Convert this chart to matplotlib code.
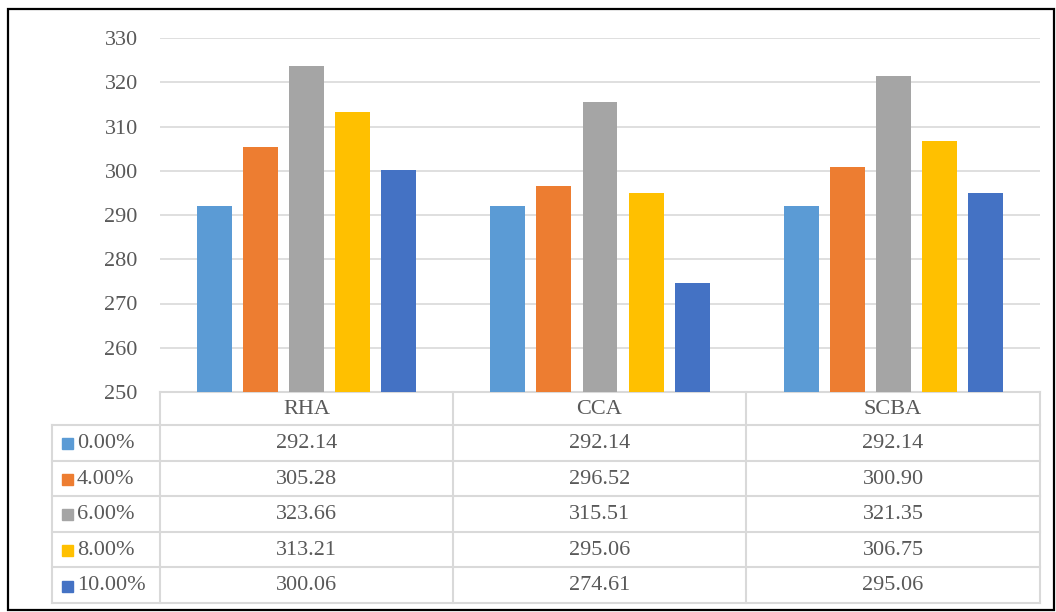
import numpy as np
import matplotlib
matplotlib.use("Agg")
from matplotlib import pyplot as plt
from matplotlib.patches import Rectangle

# DATA
categories = ["RHA", "CCA", "SCBA"]
series_names = ["0.00%", "4.00%", "6.00%", "8.00%", "10.00%"]
vals_0 = [292.14, 292.14, 292.14]
vals_4 = [305.28, 296.52, 300.90]
vals_6 = [323.66, 315.51, 321.35]
vals_8 = [313.21, 295.06, 306.75]
vals_10 = [300.06, 274.61, 295.06]
all_vals = [vals_0, vals_4, vals_6, vals_8, vals_10]
colors = ["#5B9BD5", "#ED7D31", "#A5A5A5", "#FFC000", "#4472C4"]

plt.rcParams['font.family'] = ['Liberation Serif', 'DejaVu Serif']
txt_col = "#595959"
grid_col = "#D9D9D9"
fs = 16
W, H = 1056, 612

fig = plt.figure(figsize=(W / 100, H / 100), dpi=100)

# overlay in pixel coords for the border and the data table
ov = fig.add_axes([0, 0, 1, 1], zorder=0)
ov.set_xlim(0, W)
ov.set_ylim(H, 0)
ov.axis("off")
ov.add_patch(Rectangle((8, 9), 1046, 601, fill=False, edgecolor="black", lw=1.6))

# bar chart
ax = fig.add_axes([160 / W, 1 - 392 / H, 880 / W, 354 / H], zorder=1)
ax.patch.set_alpha(0)
x = np.arange(len(categories))
bw = 0.119
step = 0.157
for i, vals in enumerate(all_vals):
    ax.bar(x + (i - 2) * step, np.array(vals) - 250, bw, bottom=250,
           color=colors[i], zorder=3)
ax.set_xlim(-0.5, 2.5)
ax.set_ylim(250, 330)
ax.set_yticks(range(250, 331, 10))
ax.set_xticks([])
ax.yaxis.grid(True, color=grid_col, lw=1.2, zorder=0)
for s in ax.spines.values():
    s.set_visible(False)
ax.tick_params(axis="y", length=0, pad=16, labelsize=fs, labelcolor=txt_col)

# data table
col_edges = [160, 453, 746, 1040]
row_edges = [392, 425, 460.5, 496, 531.5, 567, 603]
lw_t = 1.5
ov.plot([160, 1040], [row_edges[0]] * 2, color=grid_col, lw=lw_t)
for y in row_edges[1:]:
    ov.plot([52, 1040], [y, y], color=grid_col, lw=lw_t)
for xe in col_edges:
    ov.plot([xe, xe], [row_edges[0], row_edges[-1]], color=grid_col, lw=lw_t)
ov.plot([52, 52], [row_edges[1], row_edges[-1]], color=grid_col, lw=lw_t)

for j, cat in enumerate(categories):
    cx = (col_edges[j] + col_edges[j + 1]) / 2
    ov.text(cx, (row_edges[0] + row_edges[1]) / 2 + 1, cat, ha="center", va="center",
            fontsize=fs, color=txt_col)
for i, vals in enumerate(all_vals):
    cy = (row_edges[i + 1] + row_edges[i + 2]) / 2 + 1
    ov.add_patch(Rectangle((62, cy - 5.5), 11, 11, color=colors[i]))
    ov.text(77, cy, series_names[i], ha="left", va="center", fontsize=fs, color=txt_col)
    for j, v in enumerate(vals):
        cx = (col_edges[j] + col_edges[j + 1]) / 2
        ov.text(cx, cy, f"{v:.2f}", ha="center", va="center", fontsize=fs, color=txt_col)

fig.savefig("out.png", dpi=100)
